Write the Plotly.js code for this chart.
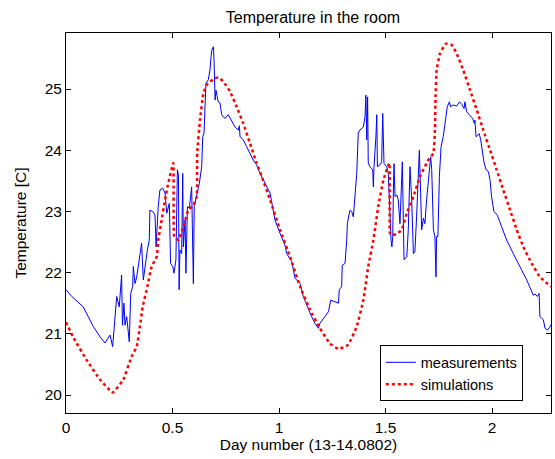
<!DOCTYPE html>
<html>
<head>
<meta charset="utf-8">
<script src="https://cdn.plot.ly/plotly-3.0.1.min.js"></script>
<style>html,body{margin:0;padding:0;background:#fff;}#chart{width:555px;height:459px;}</style>
</head>
<body>
<div id="chart"></div>
<script>
// Measurements (day number, temperature)
const measDay = [0,0.027,0.081,0.128,0.160,0.183,0.207,0.219,0.238,0.250,0.261,0.265,0.272,0.277,0.285,0.297,0.304,0.313,0.316,0.324,0.332,0.347,0.355,0.363,0.371,0.382,0.391,0.394,0.407,0.418,0.423,0.433,0.441,0.454,0.465,0.473,0.485,0.491,0.501,0.507,0.516,0.523,0.528,0.531,0.535,0.543,0.548,0.551,0.559,0.563,0.570,0.579,0.590,0.598,0.602,0.614,0.626,0.637,0.642,0.648,0.653,0.657,0.668,0.676,0.681,0.685,0.692,0.695,0.700,0.704,0.715,0.723,0.731,0.746,0.762,0.778,0.793,0.809,0.814,0.817,0.832,0.848,0.864,0.879,0.895,0.911,0.958,0.981,1.005,1.028,1.036,1.060,1.075,1.099,1.114,1.138,1.153,1.169,1.185,1.192,1.208,1.232,1.243,1.279,1.283,1.294,1.297,1.310,1.318,1.321,1.333,1.341,1.349,1.357,1.365,1.372,1.380,1.396,1.404,1.408,1.412,1.416,1.419,1.427,1.440,1.443,1.446,1.455,1.459,1.462,1.474,1.482,1.487,1.493,1.506,1.513,1.521,1.526,1.530,1.534,1.537,1.540,1.545,1.553,1.560,1.568,1.579,1.587,1.600,1.607,1.615,1.623,1.631,1.638,1.646,1.659,1.665,1.670,1.678,1.685,1.693,1.706,1.712,1.717,1.725,1.732,1.737,1.740,1.746,1.753,1.761,1.771,1.779,1.784,1.790,1.800,1.806,1.818,1.834,1.847,1.858,1.869,1.873,1.881,1.893,1.909,1.917,1.920,1.925,1.940,1.947,1.956,1.962,1.972,1.983,1.991,1.998,2.009,2.025,2.045,2.069,2.100,2.131,2.163,2.194,2.202,2.213,2.221,2.225,2.233,2.241,2.249,2.260,2.269,2.281];
const measTemp = [21.72,21.61,21.44,21.12,20.95,20.85,20.98,20.79,21.61,21.44,21.96,21.14,21.50,21.14,21.28,20.87,21.66,21.77,22.10,21.82,21.93,22.26,22.48,21.88,22.10,22.37,22.53,23.02,23.00,22.94,22.42,23.08,23.35,23.38,23.30,22.97,23.13,22.15,22.10,21.99,22.21,23.68,23.60,21.72,22.37,22.31,23.62,22.42,22.86,21.99,23.08,23.05,23.40,21.82,23.08,23.30,23.46,23.73,24.22,24.28,24.71,25.09,25.15,25.31,25.53,25.64,25.69,25.47,24.82,24.98,24.79,24.77,24.58,24.52,24.58,24.47,24.38,24.33,24.40,24.22,24.17,24.06,23.95,23.84,23.76,23.62,23.30,22.86,22.64,22.45,22.31,22.18,21.91,21.82,21.61,21.39,21.28,21.17,21.09,21.17,21.25,21.36,21.55,21.50,21.72,21.77,22.12,22.15,22.53,22.80,23.02,23.00,22.91,23.24,23.62,24.28,24.33,24.38,24.55,24.90,24.17,24.87,23.79,23.73,23.68,23.40,23.73,24.22,24.58,23.73,23.76,23.81,24.60,23.78,23.73,23.62,22.80,22.53,22.42,22.59,23.35,23.78,23.24,23.27,23.19,22.80,23.81,22.21,22.26,22.70,23.73,23.19,22.31,22.34,22.91,24.00,23.29,22.70,22.89,22.80,23.19,23.68,23.89,23.68,22.70,22.59,21.93,22.59,22.59,23.57,24.06,24.22,24.38,24.55,24.71,24.79,24.71,24.74,24.72,24.79,24.75,24.68,24.79,24.63,24.58,24.52,24.44,24.49,24.22,24.27,24.17,23.89,23.81,23.68,23.65,23.51,23.24,23.00,22.94,22.75,22.53,22.31,22.10,21.88,21.63,21.65,21.61,21.66,21.28,21.25,21.23,21.09,21.06,21.10,21.17];

// Simulations (day number, temperature)
const simDay = [0,0.033,0.097,0.160,0.219,0.269,0.308,0.332,0.347,0.360,0.382,0.402,0.426,0.433,0.449,0.465,0.480,0.504,0.508,0.527,0.551,0.574,0.598,0.614,0.616,0.629,0.645,0.661,0.692,0.715,0.739,0.770,0.801,0.832,0.864,0.895,0.919,0.958,1.005,1.052,1.099,1.146,1.192,1.239,1.279,1.325,1.365,1.396,1.419,1.443,1.466,1.490,1.518,1.521,1.529,1.553,1.576,1.600,1.631,1.662,1.701,1.725,1.732,1.735,1.740,1.756,1.784,1.811,1.834,1.865,1.897,1.928,1.959,1.991,2.022,2.053,2.085,2.116,2.147,2.186,2.225,2.277];
const simTemp = [21.19,20.95,20.57,20.25,20.04,20.25,20.63,20.79,21.12,21.44,21.77,22.10,22.26,22.53,22.86,23.19,23.46,23.79,22.59,22.53,22.75,23.02,23.10,23.24,23.95,24.49,24.93,25.07,25.16,25.19,25.12,24.96,24.71,24.44,24.11,23.79,23.57,23.19,22.70,22.26,21.77,21.39,21.09,20.84,20.75,20.82,21.12,21.55,22.10,22.53,23.08,23.51,23.79,22.64,22.61,22.63,22.70,22.97,23.24,23.57,23.84,23.95,24.33,24.87,25.31,25.58,25.74,25.72,25.58,25.31,24.98,24.66,24.33,24.00,23.68,23.35,23.02,22.70,22.42,22.15,21.93,21.77];

const xTicks = [0, 0.5, 1, 1.5, 2];
const xTickText = ['0', '0.5', '1', '1.5', '2'];
const yTicks = [20, 21, 22, 23, 24, 25];
const yTickText = ['20', '21', '22', '23', '24', '25'];

const FONT = 'Liberation Sans, Arial, sans-serif';

const traces = [
  {x: measDay, y: measTemp, type: 'scatter', mode: 'lines', name: 'measurements',
   line: {color: '#0000ff', width: 1}},
  {x: simDay, y: simTemp, type: 'scatter', mode: 'lines', name: 'simulations',
   line: {color: '#ff0000', width: 2.5, dash: 'dot', shape: 'spline', smoothing: 0.3}}
];

const axisCommon = {
  showline: true, linecolor: '#000', linewidth: 1, mirror: 'ticks',
  ticks: 'inside', ticklen: 5, tickcolor: '#000', tickwidth: 1,
  showgrid: false, zeroline: false,
  tickfont: {family: FONT, size: 15.5, color: '#000'}
};

const layout = {
  width: 555, height: 459,
  paper_bgcolor: '#fff', plot_bgcolor: '#fff',
  margin: {l: 66, r: 4, t: 33, b: 46},
  font: {family: FONT, size: 15, color: '#000'},
  title: {text: 'Temperature in the room', x: 313/555, xanchor: 'center',
          y: 1 - 17/459, yanchor: 'middle', font: {family: FONT, size: 16, color: '#000'}},
  xaxis: Object.assign({}, axisCommon, {
    range: [0, 2.277], tickvals: xTicks, ticktext: xTickText,
    title: {text: 'Day number (13-14.0802)', font: {family: FONT, size: 15.5, color: '#000'}, standoff: 1}
  }),
  yaxis: Object.assign({}, axisCommon, {
    range: [19.706, 25.915], tickvals: yTicks, ticktext: yTickText,
    title: {text: 'Temperature [C]', font: {family: FONT, size: 15.5, color: '#000'}, standoff: 14}
  }),
  showlegend: true,
  legend: {x: 0.647, y: 0.178, xanchor: 'left', yanchor: 'top',
           bgcolor: '#fff', bordercolor: '#000', borderwidth: 1,
           font: {family: FONT, size: 14.5, color: '#000'}, itemwidth: 30,
           tracegroupgap: 0}
};

Plotly.newPlot('chart', traces, layout, {displayModeBar: false, staticPlot: true});
</script>
</body>
</html>
